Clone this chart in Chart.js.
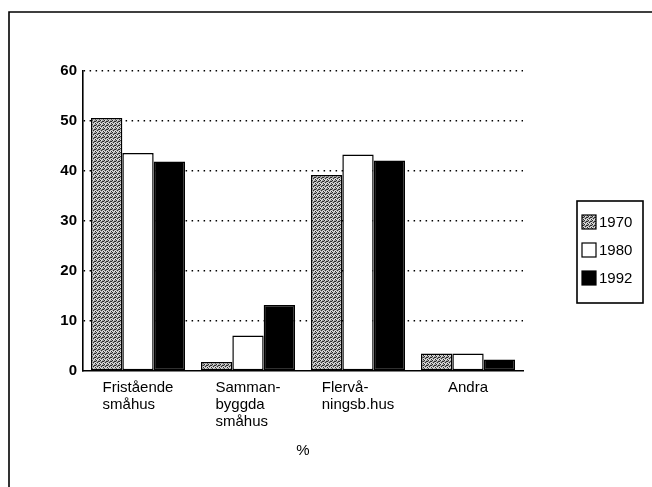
<!DOCTYPE html>
<html>
<head>
<meta charset="utf-8">
<script src="https://cdn.jsdelivr.net/npm/chart.js@4/dist/chart.umd.min.js"></script>
<style>
  html, body { margin: 0; padding: 0; background: #fff; }
  #wrap { width: 652px; height: 487px; position: relative; }
</style>
</head>
<body>
<div id="wrap"><canvas id="housingChart"></canvas></div>
<script>
// Categories (multi-line labels as printed)
const categories = [
  ['Fristående', 'småhus'],
  ['Samman-', 'byggda', 'småhus'],
  ['Flervå-', 'ningsb.hus'],
  ['Andra']
];

// Series values, percent
const years = ['1970', '1980', '1992'];
const values1970 = [50.6, 1.8, 39.2, 3.5];
const values1980 = [43.6, 7.1, 43.3, 3.5];
const values1992 = [41.9, 13.2, 42.1, 2.3];

// Y axis ticks
const yMin = 0;
const yMax = 60;
const yStep = 10;
const axisTitle = '%';

const FONT = '"Liberation Sans", Arial, Helvetica, sans-serif';

// Dotted grey texture used for the 1970 bars
function makeStipple() {
  const c = document.createElement('canvas');
  c.width = 4;
  c.height = 4;
  const g = c.getContext('2d');
  g.fillStyle = '#a9a9a9';
  g.fillRect(0, 0, 4, 4);
  g.fillStyle = '#2a2a2a';
  [[0, 0], [2, 1], [1, 2], [3, 3], [3, 1]].forEach(([x, y]) => g.fillRect(x, y, 1, 1));
  g.fillStyle = '#e4e4e4';
  [[1, 0], [3, 2], [0, 3], [2, 3]].forEach(([x, y]) => g.fillRect(x, y, 1, 1));
  return g.createPattern(c, 'repeat');
}

const stipple = makeStipple();
const seriesFills = [stipple, '#ffffff', '#000000'];

// Outer frame of the scanned page (top and left edges)
const framePlugin = {
  id: 'frame',
  beforeDraw(chart) {
    const ctx = chart.ctx;
    ctx.save();
    ctx.strokeStyle = '#000';
    ctx.lineWidth = 1.6;
    ctx.beginPath();
    ctx.moveTo(9, 487);
    ctx.lineTo(9, 12);
    ctx.lineTo(652, 12);
    ctx.stroke();
    ctx.restore();
  }
};

// Category labels: lines left-aligned, block centred under each group
const categoryLabelPlugin = {
  id: 'categoryLabels',
  afterDraw(chart) {
    const ctx = chart.ctx;
    const xScale = chart.scales.x;
    const base = chart.chartArea.bottom;
    ctx.save();
    ctx.font = '15px ' + FONT;
    ctx.fillStyle = '#000';
    ctx.textAlign = 'left';
    ctx.textBaseline = 'alphabetic';
    categories.forEach((lines, i) => {
      const widest = Math.max(...lines.map(l => ctx.measureText(l).width));
      const x0 = xScale.getPixelForValue(i) - widest / 2;
      lines.forEach((line, k) => {
        ctx.fillText(line, x0, base + 21 + k * 17);
      });
    });
    ctx.restore();
  }
};

// Boxed legend at the right
const boxLegendPlugin = {
  id: 'boxLegend',
  afterDraw(chart) {
    const ctx = chart.ctx;
    const left = 577, top = 201, width = 66, height = 102;
    ctx.save();
    ctx.strokeStyle = '#000';
    ctx.lineWidth = 1.6;
    ctx.strokeRect(left, top, width, height);
    ctx.font = '15px ' + FONT;
    ctx.textBaseline = 'middle';
    ctx.textAlign = 'left';
    chart.data.datasets.forEach((ds, i) => {
      const cy = top + 21 + i * 28;
      ctx.fillStyle = ds.backgroundColor;
      ctx.fillRect(582, cy - 7, 14, 14);
      ctx.lineWidth = 1.2;
      ctx.strokeRect(582, cy - 7, 14, 14);
      ctx.fillStyle = '#000';
      ctx.fillText(ds.label, 599, cy + 1);
    });
    ctx.restore();
  }
};

function buildDatasets() {
  const series = [values1970, values1980, values1992];
  return series.map((vals, i) => ({
    label: years[i],
    data: vals,
    backgroundColor: seriesFills[i],
    borderColor: '#000',
    borderWidth: 1.5,
    borderSkipped: false,
    categoryPercentage: 0.855,
    barPercentage: 1.0
  }));
}

const config = {
  type: 'bar',
  data: {
    labels: categories.map(l => l.join(' ')),
    datasets: buildDatasets()
  },
  options: {
    responsive: true,
    maintainAspectRatio: false,
    animation: false,
    layout: { padding: { left: 0, right: 129, top: 71, bottom: 0 } },
    plugins: {
      legend: { display: false },
      tooltip: { enabled: false }
    },
    scales: {
      x: {
        ticks: { display: false },
        grid: { display: false, drawTicks: false },
        border: { display: true, color: '#000', width: 1.6 },
        title: {
          display: true,
          text: axisTitle,
          color: '#000',
          font: { family: FONT, size: 15 },
          padding: { top: 0, bottom: 27 }
        },
        afterFit: scale => { scale.height = 116; }
      },
      y: {
        min: yMin,
        max: yMax,
        ticks: {
          stepSize: yStep,
          color: '#000',
          padding: 6,
          font: { family: FONT, size: 15, weight: 'bold' }
        },
        grid: {
          color: ctx => (ctx.tick && ctx.tick.value === yMin ? 'rgba(0,0,0,0)' : '#000'),
          lineWidth: 1.5,
          drawTicks: false
        },
        border: { display: true, color: '#000', width: 1.6, dash: [1.5, 4.5] },
        afterFit: scale => { scale.width = 83; }
      }
    }
  },
  plugins: [framePlugin, categoryLabelPlugin, boxLegendPlugin]
};

new Chart(document.getElementById('housingChart'), config);
</script>
</body>
</html>
